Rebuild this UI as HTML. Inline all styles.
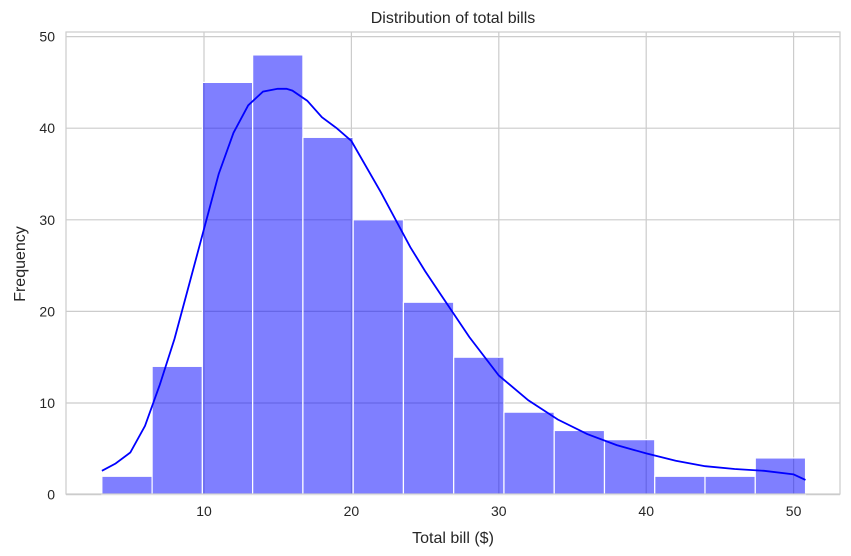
<!DOCTYPE html>
<html><head><meta charset="utf-8"><style>
body{margin:0;background:#fff;}
svg{display:block;font-family:"Liberation Sans","DejaVu Sans",sans-serif;}
</style></head><body>
<svg id="chart" width="851" height="556">
<text x="453" y="23" font-size="16" text-anchor="middle" fill="#262626">Distribution of total bills</text>
<text x="453" y="543" font-size="16" text-anchor="middle" fill="#262626">Total bill ($)</text>
<text transform="translate(25,264) rotate(-90)" font-size="16" text-anchor="middle" fill="#262626">Frequency</text>
<g id="grid"></g><g id="bars"></g><g id="kde"></g><g id="ticks"></g>
<rect x="66" y="32" width="774" height="462" fill="none" stroke="#ccc" stroke-width="1.2"/>
</svg>
<script>
const binStart = 3.07;
const binEnd = 50.81;
const counts = [2,14,45,48,39,30,21,15,9,7,6,2,2,4];
const xTicks = [10,20,30,40,50];
const yTicks = [0,10,20,30,40,50];
const kdeX = [3.07,4,5,6,7,8,9,10,11,12,13,14,15,15.6,16,17,18,19,20,22,24,25,26,28,30,32,34,36,38,40,42,44,46,48,50,50.81];
const kdeY = [2.6,3.4,4.6,7.5,12,17,23,29,35,39.5,42.5,44,44.3,44.3,44.1,43,41.2,40,38.6,33,27,24.4,22,17.2,13,10.3,8.2,6.6,5.4,4.5,3.7,3.1,2.8,2.6,2.2,1.6];
const NS="http://www.w3.org/2000/svg";
const X0=66,X1=840,Y0=494,Y1=32;
function x(v){return 204+(v-10)*14.74;}
function y(v){return 494.6-v*9.16;}
function mk(t,a,p){const e=document.createElementNS(NS,t);for(const k in a)e.setAttribute(k,a[k]);p.appendChild(e);return e;}
const grid=document.getElementById('grid'),ticks=document.getElementById('ticks');
xTicks.forEach(t=>{
 const l=mk('line',{x1:x(t),x2:x(t),y1:Y1,y2:Y0,stroke:'#ccc','stroke-width':1.2},grid);
 
 
 const tx=mk('text',{x:x(t),y:516,'font-size':14,'text-anchor':'middle',fill:'#262626'},ticks);
 tx.textContent=t;
 
 
});
yTicks.forEach(t=>{
 const l=mk('line',{x1:X0,x2:X1,y1:y(t),y2:y(t),stroke:'#ccc','stroke-width':1.2},grid);
 
 
 const tx=mk('text',{x:55,y:y(t)+5,'font-size':14,'text-anchor':'end',fill:'#262626'},ticks);
 tx.textContent=t;
 
 
});
const bars=document.getElementById('bars');
const w=(binEnd-binStart)/counts.length;
counts.forEach((c,i)=>{
 const a=binStart+i*w,b=a+w;
 const r=mk('rect',{x:x(a),y:y(c),width:x(b)-x(a),height:y(0)-y(c),fill:'rgba(0,0,255,0.5)',stroke:'#fff','stroke-width':1.2},bars);
 
 
});
let d='';
kdeX.forEach((v,i)=>{d+=(i?'L':'M')+x(v).toFixed(1)+','+y(kdeY[i]).toFixed(1);});
const p=mk('path',{d:d,fill:'none',stroke:'#0000ff','stroke-width':1.8},document.getElementById('kde'));


</script>
</body></html>
